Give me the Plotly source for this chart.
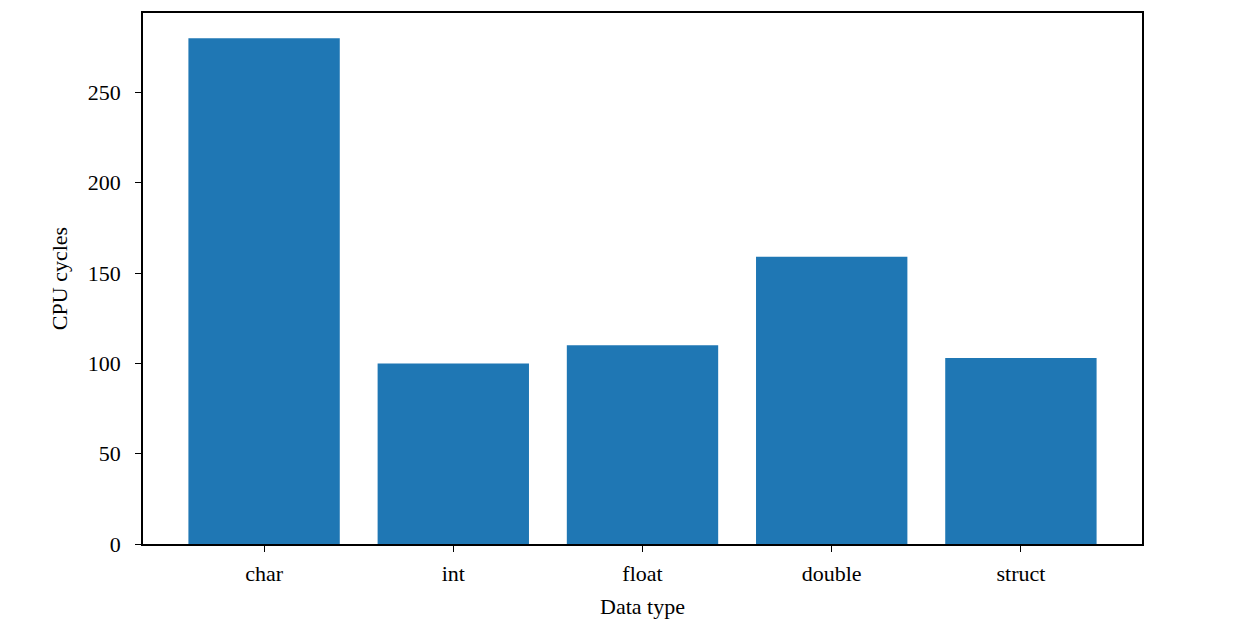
import plotly.graph_objects as go

categories = ["char", "int", "float", "double", "struct"]
cycles = [280, 100, 110, 159, 103]
y_ticks = [0, 50, 100, 150, 200, 250]

FONT = "Liberation Serif, DejaVu Serif, serif"

fig = go.Figure(
    go.Bar(
        x=list(range(len(categories))),
        y=cycles,
        width=0.8,
        marker=dict(color="#1f77b4", line=dict(width=0)),
    )
)

fig.update_layout(
    width=1234,
    height=642,
    margin=dict(l=135, r=100, t=3, b=106),
    paper_bgcolor="white",
    plot_bgcolor="white",
    showlegend=False,
    font=dict(family=FONT, size=22, color="black"),
)

fig.update_xaxes(
    range=[-0.64, 4.64],
    tickmode="array",
    tickvals=list(range(len(categories))),
    ticktext=categories,
    ticks="outside",
    ticklen=6,
    tickwidth=1.3,
    tickcolor="black",
    showline=True,
    linecolor="black",
    linewidth=1.5,
    mirror=True,
    showgrid=False,
    zeroline=False,
    ticklabelstandoff=3,
    title=dict(text="Data type", standoff=13, font=dict(size=22)),
)

fig.update_yaxes(
    range=[0, 294],
    tickmode="array",
    tickvals=y_ticks,
    ticktext=[str(v) for v in y_ticks],
    ticks="outside",
    ticklen=6,
    tickwidth=1.3,
    tickcolor="black",
    showline=True,
    linecolor="black",
    linewidth=1.5,
    mirror=True,
    showgrid=False,
    zeroline=False,
    ticklabelstandoff=10,
    title=dict(text="CPU cycles", standoff=14, font=dict(size=22)),
)

fig.write_html("out.html")
